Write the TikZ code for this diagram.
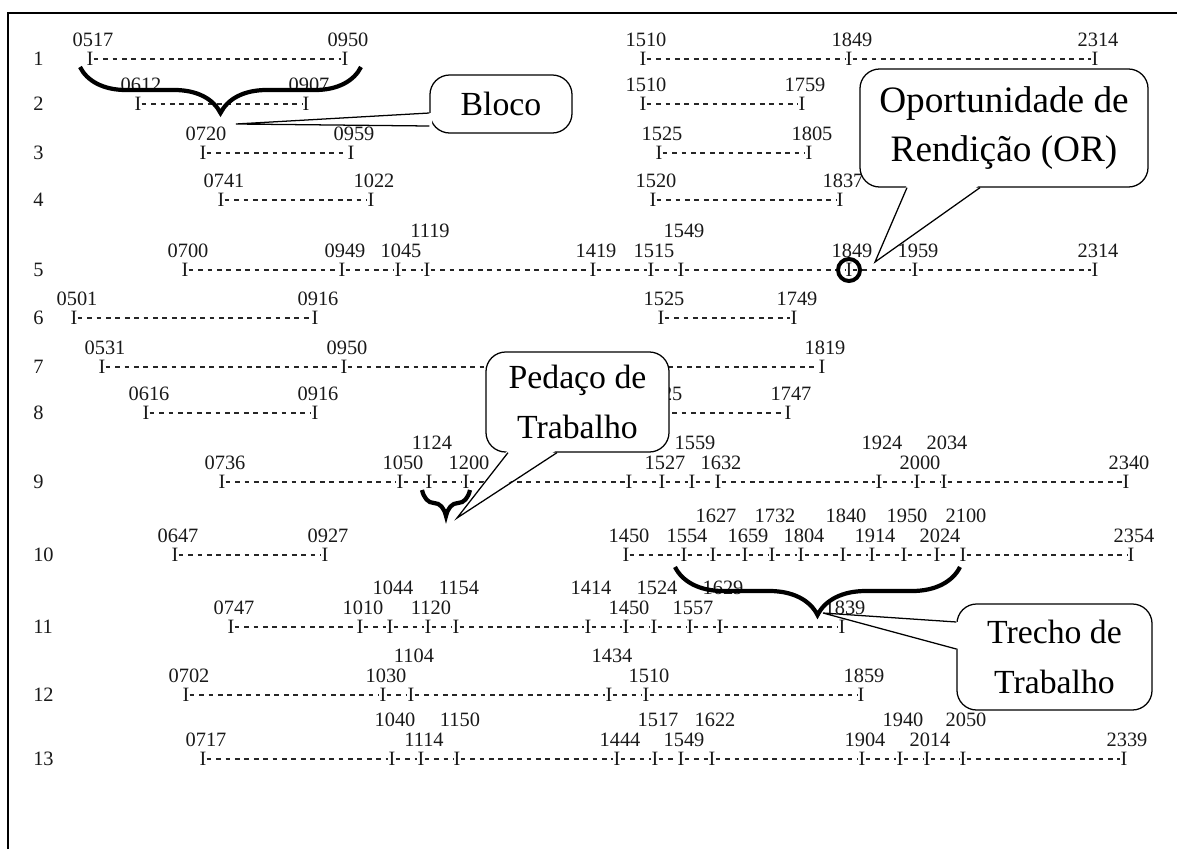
\documentclass[tikz,border=0pt]{standalone}
\usepackage{fontspec}
\setmainfont{Liberation Serif}
\usetikzlibrary{decorations.pathreplacing}

\begin{document}
\begin{tikzpicture}[x=0.025cm, y=-0.025cm,
    every node/.style={inner sep=0pt},
    hora/.style={font=\fontsize{14.5}{16}\selectfont, text=black!90},
    traco/.style={black!85, line width=0.95pt, dash pattern=on 3.4pt off 3.3pt},
    chave/.style={line width=3pt, decorate, decoration={brace, amplitude=#1, mirror}},
    balao/.style={draw, line width=0.9pt, rounded corners=14pt, fill=white, align=center, font=\fontsize{24}{35.5}\selectfont},
    ponta/.style={line width=0.9pt}]
  \useasboundingbox (0,0) rectangle (1177,849);
  % moldura
  \draw[line width=1.4pt] (8,849) -- (8,13) -- (1177,13);

  % numeros das linhas
  \foreach \n/\y in {1/59, 2/104, 3/153, 4/200, 5/270, 6/318, 7/367, 8/413, 9/482, 10/555, 11/627, 12/695, 13/759}
    \node[hora, anchor=west] (lin\n) at (33,\y) {\n};

  % jornadas: x / hora / nivel do rotulo
  \foreach \pc/\y/\pts in {
      1a/59/{90/0517/0, 345/0950/0},
      1b/59/{643/1510/0, 849/1849/0, 1095/2314/0},
      2a/104/{138/0612/0, 306/0907/0},
      2b/104/{643/1510/0, 802/1759/0},
      3a/153/{203/0720/0, 351/0959/0},
      3b/153/{659/1525/0, 809/1805/0},
      4a/200/{221/0741/0, 371/1022/0},
      4b/200/{653/1520/0, 840/1837/0},
      5/270/{185/0700/0, 342/0949/0, 398/1045/0, 427/1119/1, 593/1419/0, 651/1515/0, 681/1549/1, 849/1849/0, 915/1959/0, 1095/2314/0},
      6a/318/{74/0501/0, 315/0916/0},
      6b/318/{661/1525/0, 794/1749/0},
      7/367/{102/0531/0, 344/0950/0, 822/1819/0},
      8a/413/{146/0616/0, 315/0916/0},
      8b/413/{659/1525/0, 788/1747/0},
      9/482/{222/0736/0, 400/1050/0, 429/1124/1, 466/1200/0, 629//0, 662/1527/0, 692/1559/1, 718/1632/0, 879/1924/1, 917/2000/0, 944/2034/1, 1126/2340/0},
      10a/555/{175/0647/0, 325/0927/0},
      10b/555/{626/1450/0, 684/1554/0, 713/1627/1, 745/1659/0, 772/1732/1, 801/1804/0, 843/1840/1, 872/1914/0, 904/1950/1, 937/2024/0, 963/2100/1, 1131/2354/0},
      11/627/{231/0747/0, 360/1010/0, 390/1044/1, 428/1120/0, 456/1154/1, 588/1414/1, 626/1450/0, 654/1524/1, 690/1557/0, 720/1629/1, 842/1839/0},
      12/695/{186/0702/0, 383/1030/0, 411/1104/1, 609/1434/1, 646/1510/0, 861/1859/0},
      13/759/{203/0717/0, 392/1040/1, 421/1114/0, 457/1150/1, 617/1444/0, 655/1517/1, 681/1549/0, 712/1622/1, 862/1904/0, 900/1940/1, 927/2014/0, 963/2050/1, 1124/2339/0}}{
    \foreach \x/\hh/\nv [count=\k] in \pts {
      \node[hora] (m\pc-\k) at (\x,\y) {I};
      \node[hora] (h\pc-\k) at (\x+3,\y-19-20*\nv) {\hh};
      \ifnum\k>1
        \pgfmathtruncatemacro\j{\k-1}
        \draw[traco] (m\pc-\j) -- (m\pc-\k);
      \fi
    }
  }

  % chaves
  \draw[chave=1.15cm] (80,67) -- (361,67);
  \draw[chave=0.65cm] (422,490) -- (470,490);
  \draw[chave=1.2cm] (675,567) -- (960,567);

  % oportunidade de rendicao
  \node[circle, draw, line width=2.8pt, minimum size=0.55cm] (or) at (m5-8) {};

  % baloes
  \node[balao, minimum width=3.55cm, minimum height=1.45cm] (bloco) at (501,104) {Bloco};
  \coordinate (blocoponta) at (236,124);
  \fill[white] ([xshift=2pt, yshift=-0.225cm]bloco.west) -- (blocoponta) -- ([xshift=2pt, yshift=-0.55cm]bloco.west) -- cycle;
  \draw[ponta] ([yshift=-0.225cm]bloco.west) -- (blocoponta) -- ([yshift=-0.55cm]bloco.west);

  \node[balao, minimum width=7.2cm, minimum height=2.95cm, font=\fontsize{26.5}{35}\selectfont] (oport) at (1004,128) {Oportunidade de\\Rendição (OR)};
  \coordinate (oportponta) at (875,262);
  \fill[white] ([xshift=-2.425cm, yshift=2pt]oport.south) -- (oportponta) -- ([xshift=-0.6cm, yshift=2pt]oport.south) -- cycle;
  \draw[ponta] ([xshift=-2.425cm]oport.south) -- (oportponta) -- ([xshift=-0.6cm]oport.south);

  \node[balao, minimum width=4.575cm, minimum height=2.5cm] (pedaco) at (577.5,402) {Pedaço de\\Trabalho};
  \coordinate (pedacoponta) at (457,518);
  \fill[white] ([xshift=-1.7375cm, yshift=2pt]pedaco.south) -- (pedacoponta) -- ([xshift=-0.5125cm, yshift=2pt]pedaco.south) -- cycle;
  \draw[ponta] ([xshift=-1.7375cm]pedaco.south) -- (pedacoponta) -- ([xshift=-0.5125cm]pedaco.south);

  \node[balao, minimum width=4.875cm, minimum height=2.65cm] (trecho) at (1054.5,657) {Trecho de\\Trabalho};
  \coordinate (trechoponta) at (823,613);
  \fill[white] ([xshift=2pt, yshift=0.875cm]trecho.west) -- (trechoponta) -- ([xshift=2pt, yshift=0.2cm]trecho.west) -- cycle;
  \draw[ponta] ([yshift=0.875cm]trecho.west) -- (trechoponta) -- ([yshift=0.2cm]trecho.west);
\end{tikzpicture}
\end{document}
